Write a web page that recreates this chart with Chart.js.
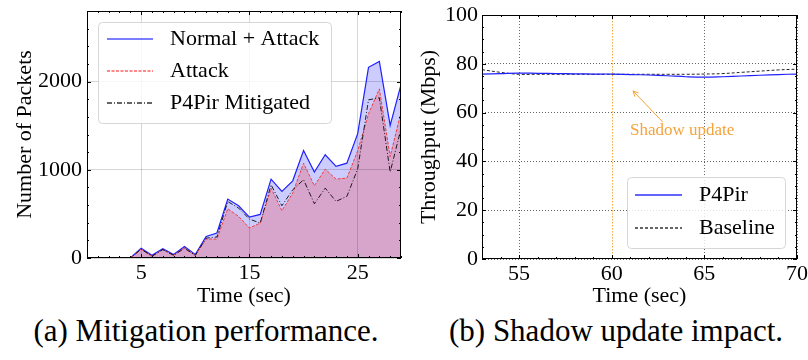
<!DOCTYPE html>
<html><head><meta charset="utf-8">
<script src="https://cdn.jsdelivr.net/npm/chart.js@4/dist/chart.umd.min.js"></script>
<style>
html,body{margin:0;padding:0;background:#fff;width:808px;height:360px;overflow:hidden;position:relative;}
canvas{position:absolute;top:0;}
#ca{left:0;}
#cb{left:404px;}
.cap{position:absolute;top:313px;width:420px;font-family:'Liberation Serif','Times New Roman',serif;font-size:31px;line-height:36px;text-align:center;white-space:nowrap;color:#000;}
</style></head>
<body>
<canvas id="ca" width="404" height="310"></canvas>
<canvas id="cb" width="414" height="310"></canvas>
<div class="cap" style="left:-4px">(a) Mitigation performance.</div>
<div class="cap" style="left:406px">(b) Shadow update impact.</div>
<script>
// ---- data: (a) Mitigation performance ----
const timeA = [0,1,2,3,4,5,6,7,8,9,10,11,12,13,14,15,16,17,18,19,20,21,22,23,24,25,26,27,28,29];
const normalAttack = [0,0,0,0,0,110,30,105,40,130,40,245,283,668,592,464,494,894,755,875,1219,974,1170,1038,1075,1410,2162,2229,1504,1966];
const attackOnly   = [0,0,0,0,0,100,20,95,30,115,30,215,215,558,472,340,396,792,536,736,1075,819,1008,894,906,1215,1635,1917,1150,1654];
const p4pirMitigated = [0,0,0,0,0,100,20,95,30,110,30,226,238,640,566,441,396,830,592,773,887,615,792,642,698,1010,1793,1816,975,1466];
const xTicksA = [5,15,25];
const yTicksA = [0,1000,2000];
const yTickLabelsA = ['0','1000','2000'];

// ---- data: (b) Shadow update impact ----
const timeB = [53,54,55,56,57,58,59,60,61,62,63,64,65,66,67,68,69,70];
const p4pirThroughput = [75.8,76.0,76.2,76.1,76.0,75.9,75.8,75.8,75.6,75.4,75.1,74.7,74.5,74.7,75.0,75.3,75.6,75.8];
const baselineThroughput = [77.6,76.5,75.7,75.7,75.7,75.7,75.7,75.7,75.7,75.7,75.7,75.7,75.8,76.0,76.5,77.0,77.5,77.8];
const xTicksB = [55,60,65,70];
const yTicksB = [0,20,40,60,80,100];
const shadowX = 60;
const noteText = 'Shadow update';
const noteTextAt = [63.8, 52.5];
const arrowFrom = [62.76, 56.1];
const arrowTo = [61.15, 68.9];

const FONT = "'Liberation Serif','Times New Roman',serif";
Chart.defaults.font.family = FONT;
Chart.defaults.font.size = 22;
Chart.defaults.color = '#000';

const BLUE = '#2020ff', RED = '#f03c3c', BLACK = '#000000';

const frameTicks = {
  id: 'frameTicks',
  afterDatasetsDraw(chart, args, o) {
    const {ctx, chartArea: a} = chart;
    const x = chart.scales.x, y = chart.scales.y;
    ctx.save();
    ctx.strokeStyle = '#000';
    ctx.lineWidth = 1;
    ctx.setLineDash([]);
    ctx.beginPath();
    const isMajor = (s, v) => s.ticks.some(t => Math.abs(t.value - v) < 1e-6);
    for (let v = Math.ceil(x.min / o.xMinor) * o.xMinor; v <= x.max + 1e-9; v += o.xMinor) {
      const px = Math.round(x.getPixelForValue(v)) + 0.5;
      const L = isMajor(x, v) ? o.major : o.minor;
      ctx.moveTo(px, a.bottom); ctx.lineTo(px, a.bottom - L);
      ctx.moveTo(px, a.top); ctx.lineTo(px, a.top + L);
    }
    for (let v = Math.ceil(y.min / o.yMinor) * o.yMinor; v <= y.max + 1e-9; v += o.yMinor) {
      const py = Math.round(y.getPixelForValue(v)) + 0.5;
      const L = isMajor(y, v) ? o.major : o.minor;
      ctx.moveTo(a.left, py); ctx.lineTo(a.left + L, py);
      ctx.moveTo(a.right, py); ctx.lineTo(a.right - L, py);
    }
    ctx.stroke();
    ctx.strokeRect(Math.round(a.left) + 0.5, Math.round(a.top) + 0.5, Math.round(a.right - a.left) - 1, Math.round(a.bottom - a.top) - 1);
    ctx.restore();
  }
};

const boxLegend = {
  id: 'boxLegend',
  afterDraw(chart, args, o) {
    const {ctx, chartArea: a} = chart;
    const left = o.anchor === 'tl' ? a.left + o.dx : a.right - o.dx - o.w;
    const top = o.anchor === 'tl' ? a.top + o.dy : a.bottom - o.dy - o.h;
    ctx.save();
    ctx.globalAlpha = 1;
    ctx.setLineDash([]);
    ctx.beginPath();
    if (ctx.roundRect) ctx.roundRect(left + 0.5, top + 0.5, o.w, o.h, 4); else ctx.rect(left + 0.5, top + 0.5, o.w, o.h);
    ctx.fillStyle = 'rgba(255,255,255,0.8)';
    ctx.fill();
    ctx.strokeStyle = '#d6d6d6';
    ctx.lineWidth = 1;
    ctx.stroke();
    ctx.closePath();
    o.order.forEach((di, k) => {
      const ds = chart.data.datasets[di];
      const yy = Math.round(top + o.first + k * o.row);
      ctx.save();
      ctx.strokeStyle = o.colors[k];
      ctx.lineWidth = 1.5;
      ctx.setLineDash(o.dashes[k]);
      ctx.beginPath();
      ctx.moveTo(left + o.lx0, yy);
      ctx.lineTo(left + o.lx1, yy);
      ctx.stroke();
      ctx.restore();
      ctx.fillStyle = '#000';
      ctx.font = '22px ' + FONT;
      ctx.textAlign = 'left';
      ctx.textBaseline = 'middle';
      ctx.fillText(ds.label, left + o.tx, yy);
    });
    ctx.restore();
  }
};

const shadowNote = {
  id: 'shadowNote',
  beforeDatasetsDraw(chart) {
    const {ctx, chartArea: a} = chart;
    const px = Math.round(chart.scales.x.getPixelForValue(shadowX)) + 0.5;
    ctx.save();
    ctx.strokeStyle = 'rgba(245,165,50,0.9)';
    ctx.lineWidth = 1;
    ctx.setLineDash([1.5, 1.5]);
    ctx.beginPath(); ctx.moveTo(px, a.top); ctx.lineTo(px, a.bottom); ctx.stroke();
    ctx.restore();
  },
  afterDatasetsDraw(chart) {
    const {ctx} = chart;
    const x = chart.scales.x, y = chart.scales.y;
    const x0 = x.getPixelForValue(arrowFrom[0]), y0 = y.getPixelForValue(arrowFrom[1]);
    const x1 = x.getPixelForValue(arrowTo[0]), y1 = y.getPixelForValue(arrowTo[1]);
    ctx.save();
    ctx.setLineDash([]);
    ctx.strokeStyle = '#f5a33a';
    ctx.lineWidth = 1;
    ctx.beginPath(); ctx.moveTo(x0, y0); ctx.lineTo(x1, y1);
    const ang = Math.atan2(y1 - y0, x1 - x0), L = 6, w = 0.45;
    ctx.moveTo(x1 - L * Math.cos(ang - w), y1 - L * Math.sin(ang - w));
    ctx.lineTo(x1, y1);
    ctx.lineTo(x1 - L * Math.cos(ang + w), y1 - L * Math.sin(ang + w));
    ctx.stroke();
    ctx.fillStyle = '#f5a33a';
    ctx.font = '17px ' + FONT;
    ctx.textAlign = 'center';
    ctx.textBaseline = 'middle';
    ctx.fillText(noteText, x.getPixelForValue(noteTextAt[0]), y.getPixelForValue(noteTextAt[1]));
    ctx.restore();
  }
};

new Chart(document.getElementById('ca'), {
  type: 'line',
  data: {
    labels: timeA,
    datasets: [
      {label: 'Normal + Attack', data: normalAttack, borderColor: BLUE, borderWidth: 1.2,
       backgroundColor: 'rgba(0,0,255,0.2)', fill: 'origin', pointRadius: 0, tension: 0, order: 2},
      {label: 'Attack', data: attackOnly, borderColor: RED, borderWidth: 1, borderDash: [3, 1.5],
       backgroundColor: 'rgba(255,0,0,0.2)', fill: 'origin', pointRadius: 0, tension: 0, order: 1},
      {label: 'P4Pir Mitigated', data: p4pirMitigated, borderColor: 'rgba(0,0,0,0.85)', borderWidth: 1, borderDash: [5, 2, 1, 2],
       fill: false, pointRadius: 0, tension: 0, order: 0}
    ]
  },
  options: {
    animation: false, responsive: false, devicePixelRatio: 1, events: [],
    layout: {padding: {left: 0, top: 11, right: 3, bottom: 0}},
    plugins: {
      legend: {display: false}, tooltip: {enabled: false},
      filler: {drawTime: 'beforeDraw'},
      frameTicks: {xMinor: 1, yMinor: 200, major: 4, minor: 2},
      boxLegend: {anchor: 'tl', dx: 11, dy: 11, w: 233, h: 101, first: 17, row: 32, lx0: 9, lx1: 55, tx: 72,
        order: [0, 1, 2], colors: ['#5050ff', '#ff6060', '#333333'], dashes: [[], [3, 1.5], [5, 2, 1, 2]]}
    },
    scales: {
      x: {type: 'linear', min: 0, max: 29,
        afterBuildTicks: s => { s.ticks = xTicksA.map(v => ({value: v})); },
        afterFit: s => { s.height = 52; s.paddingLeft = 0; s.paddingRight = 0; },
        grid: {color: 'rgba(0,0,0,0.16)', lineWidth: 1, drawTicks: false},
        border: {display: false},
        ticks: {padding: 2, maxRotation: 0, autoSkip: false, callback: v => String(v)},
        title: {display: true, text: 'Time (sec)', padding: {top: 0, bottom: 1}}
      },
      y: {type: 'linear', min: 0, max: 2800,
        afterBuildTicks: s => { s.ticks = yTicksA.map(v => ({value: v})); },
        afterFit: s => { s.width = 87; s.paddingTop = 0; s.paddingBottom = 0; },
        grid: {color: 'rgba(0,0,0,0.16)', lineWidth: 1, drawTicks: false},
        border: {display: false},
        ticks: {padding: 5, autoSkip: false, callback: (v, i) => yTickLabelsA[i]},
        title: {display: true, text: 'Number of Packets', padding: {top: 12, bottom: 0}}
      }
    }
  },
  plugins: [frameTicks, boxLegend]
});

new Chart(document.getElementById('cb'), {
  type: 'line',
  data: {
    labels: timeB,
    datasets: [
      {label: 'P4Pir', data: p4pirThroughput, borderColor: BLUE, borderWidth: 1.2,
       fill: false, pointRadius: 0, tension: 0.4},
      {label: 'Baseline', data: baselineThroughput, borderColor: 'rgba(0,0,0,0.85)', borderWidth: 1, borderDash: [3, 2],
       fill: false, pointRadius: 0, tension: 0.4}
    ]
  },
  options: {
    animation: false, responsive: false, devicePixelRatio: 1, events: [],
    layout: {padding: {left: 0, top: 15, right: 21, bottom: 0}},
    plugins: {
      legend: {display: false}, tooltip: {enabled: false},
      frameTicks: {xMinor: 1, yMinor: 5, major: 4, minor: 2},
      boxLegend: {anchor: 'br', dx: 12, dy: 11, w: 158, h: 71, first: 18, row: 33, lx0: 8, lx1: 55, tx: 72,
        order: [0, 1], colors: ['#3030ff', '#333333'], dashes: [[], [3, 2]]}
    },
    scales: {
      x: {type: 'linear', min: 53, max: 70,
        afterBuildTicks: s => { s.ticks = xTicksB.map(v => ({value: v})); },
        afterFit: s => { s.height = 51; s.paddingLeft = 0; s.paddingRight = 0; },
        grid: {color: c => (c.tick && c.tick.value === shadowX) ? 'rgba(0,0,0,0)' : 'rgba(0,0,0,0.6)', lineWidth: 1, drawTicks: false},
        border: {display: false, dash: [1, 2]},
        ticks: {padding: 2, maxRotation: 0, autoSkip: false, callback: v => String(v)},
        title: {display: true, text: 'Time (sec)', padding: {top: 0, bottom: 1}}
      },
      y: {type: 'linear', min: 0, max: 100,
        afterBuildTicks: s => { s.ticks = yTicksB.map(v => ({value: v})); },
        afterFit: s => { s.width = 78; s.paddingTop = 0; s.paddingBottom = 0; },
        grid: {color: 'rgba(0,0,0,0.6)', lineWidth: 1, drawTicks: false},
        border: {display: false, dash: [1, 2]},
        ticks: {padding: 4, autoSkip: false, callback: v => String(v)},
        title: {display: true, text: 'Throughput (Mbps)', padding: {top: 12, bottom: 0}}
      }
    }
  },
  plugins: [frameTicks, boxLegend, shadowNote]
});
</script>
</body></html>
